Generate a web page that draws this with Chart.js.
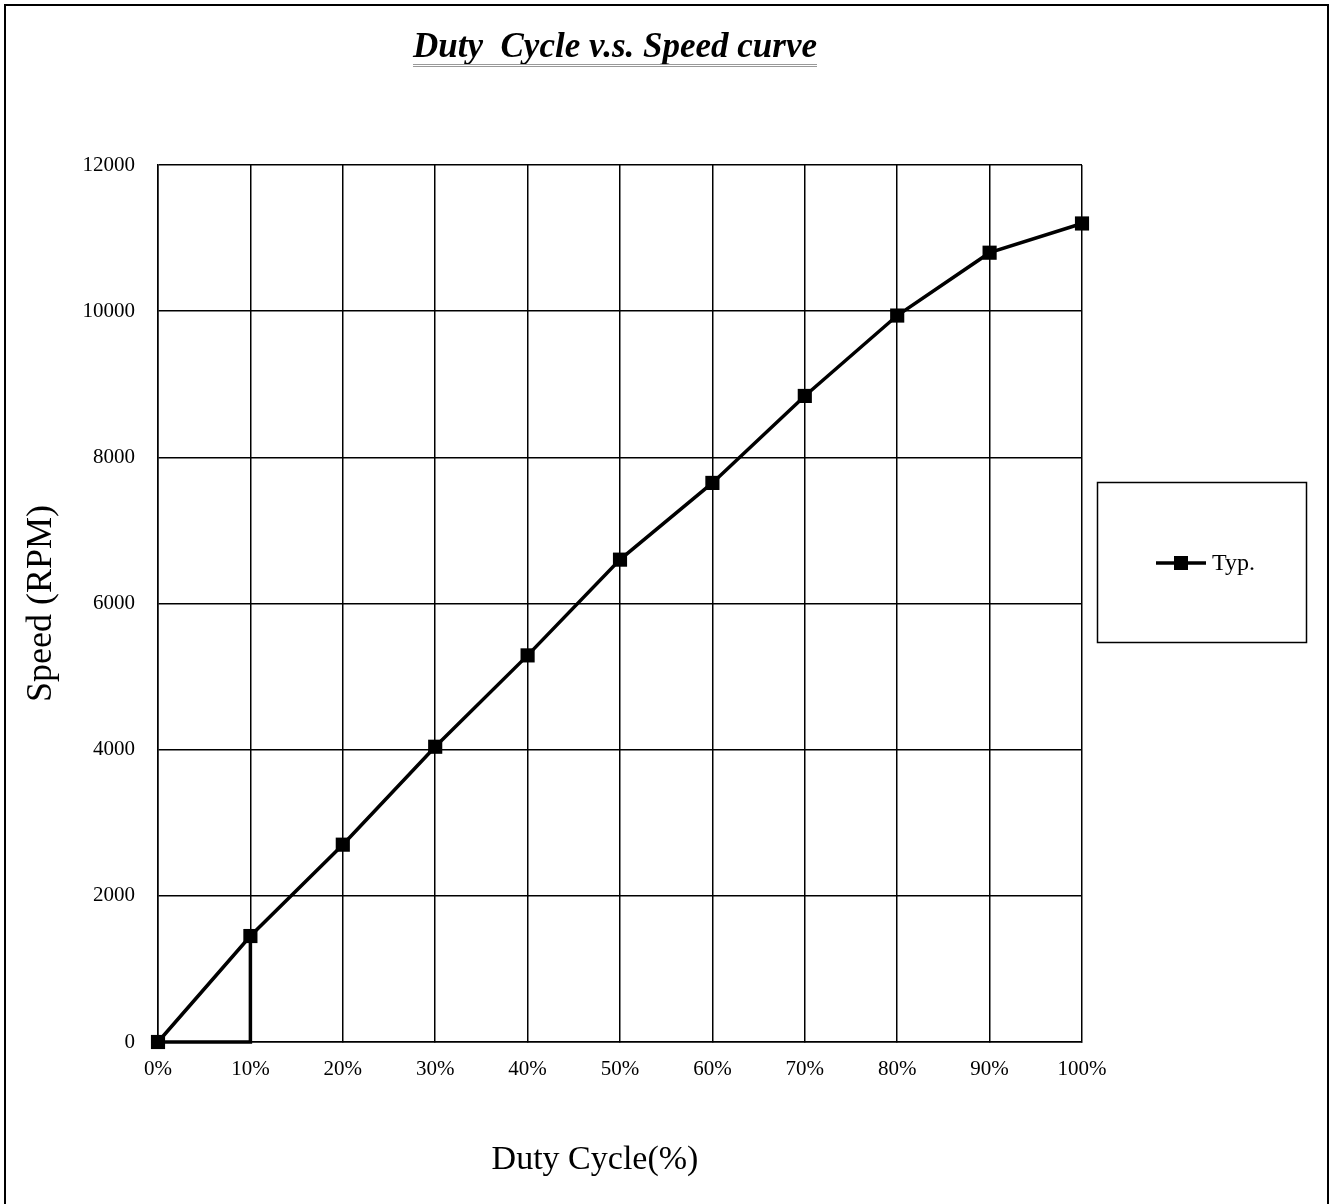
<!DOCTYPE html>
<html>
<head>
<meta charset="utf-8">
<script src="https://cdn.jsdelivr.net/npm/chart.js@4/dist/chart.umd.min.js"></script>
<style>
  html, body { margin: 0; padding: 0; background: #fff; }
  #wrap { width: 1335px; height: 1204px; }
</style>
</head>
<body>
<div id="wrap"><canvas id="Chart" width="1335" height="1204"></canvas></div>
<script>
// values
const dutyCycle = [0, 10, 20, 30, 40, 50, 60, 70, 80, 90, 100];
const speedTyp = [0, 1450, 2700, 4040, 5290, 6600, 7650, 8840, 9940, 10800, 11200];
// start-up step drawn under the curve (0% -> 10% at 0 rpm, then jump up)
const stepX = [0, 10, 10];
const stepY = [0, 0, 1450];
const yTicks = [0, 2000, 4000, 6000, 8000, 10000, 12000];

const titleText = "Duty  Cycle v.s. Speed curve";
const xTitle = "Duty Cycle(%)";
const yTitle = "Speed (RPM)";
const legendLabel = "Typ.";

const serif = "'Liberation Serif', 'Times New Roman', serif";

function toPoints(xs, ys) {
  const pts = [];
  for (var i = 0; i < xs.length; i++) pts.push({ x: xs[i], y: ys[i] });
  return pts;
}

// frame, title, x title and the boxed legend
const decorations = {
  id: "decorations",
  afterDraw(chart) {
    const ctx = chart.ctx;
    ctx.save();
    // outer frame (open at the bottom)
    ctx.strokeStyle = "#000";
    ctx.lineWidth = 2;
    ctx.beginPath();
    ctx.moveTo(5, 1210);
    ctx.lineTo(5, 5);
    ctx.lineTo(1328, 5);
    ctx.lineTo(1328, 1210);
    ctx.stroke();

    // title
    ctx.fillStyle = "#000";
    ctx.font = "italic bold 35px " + serif;
    ctx.textAlign = "center";
    ctx.textBaseline = "alphabetic";
    ctx.fillText(titleText, 615, 57);
    const tw = ctx.measureText(titleText).width;
    ctx.strokeStyle = "#999";
    ctx.lineWidth = 1;
    ctx.beginPath();
    ctx.moveTo(615 - tw / 2, 64.5);
    ctx.lineTo(615 + tw / 2, 64.5);
    ctx.moveTo(615 - tw / 2, 66.5);
    ctx.lineTo(615 + tw / 2, 66.5);
    ctx.stroke();

    // x axis title
    ctx.font = "34px " + serif;
    ctx.textBaseline = "middle";
    ctx.fillText(xTitle, 595, 1160);

    // legend box
    ctx.strokeStyle = "#000";
    ctx.lineWidth = 1.5;
    ctx.strokeRect(1097.5, 482.5, 209, 160);
    const ds = chart.data.datasets[0];
    ctx.strokeStyle = ds.borderColor;
    ctx.lineWidth = ds.borderWidth;
    ctx.beginPath();
    ctx.moveTo(1156, 563);
    ctx.lineTo(1206, 563);
    ctx.stroke();
    ctx.fillStyle = ds.pointBackgroundColor;
    ctx.fillRect(1174, 556, 14, 14);
    ctx.fillStyle = "#000";
    ctx.font = "24px " + serif;
    ctx.textAlign = "left";
    ctx.fillText(legendLabel, 1212, 564);
    ctx.restore();
  }
};

const ctx = document.getElementById("Chart").getContext("2d");
const myChart = new Chart(ctx, {
  type: "line",
  data: {
    datasets: [
      {
        label: legendLabel,
        data: toPoints(dutyCycle, speedTyp),
        borderColor: "#000",
        backgroundColor: "#000",
        borderWidth: 3.5,
        pointStyle: "rect",
        pointRadius: 10,
        pointBackgroundColor: "#000",
        pointBorderWidth: 0,
        tension: 0,
        clip: false,
      },
      {
        label: "step",
        data: toPoints(stepX, stepY),
        borderColor: "#000",
        borderWidth: 3.5,
        pointRadius: 0,
        tension: 0,
        clip: false,
      },
    ],
  },
  options: {
    responsive: false,
    animation: false,
    layout: { padding: { top: 165, right: 253, left: 0, bottom: 0 } },
    plugins: {
      legend: { display: false },
      title: { display: false },
      tooltip: { enabled: false },
    },
    scales: {
      x: {
        type: "linear",
        min: 0,
        max: 100,
        afterFit: (scale) => { scale.height = 162; },
        ticks: {
          stepSize: 10,
          padding: 15,
          color: "#000",
          font: { family: serif, size: 21 },
          callback: (v) => v + "%",
        },
        grid: { color: "#000", lineWidth: 1.5, tickLength: 0 },
        border: { color: "#000", width: 1.5 },
      },
      y: {
        min: 0,
        max: 12000,
        afterFit: (scale) => { scale.width = 158; },
        afterBuildTicks: (scale) => {
          scale.ticks = yTicks.map((v) => ({ value: v }));
        },
        ticks: {
          padding: 23,
          color: "#000",
          font: { family: serif, size: 21 },
          callback: (v) => String(v),
        },
        grid: { color: "#000", lineWidth: 1.5, tickLength: 0 },
        border: { color: "#000", width: 1.5 },
        title: {
          display: true,
          text: yTitle,
          color: "#000",
          font: { family: serif, size: 36 },
          padding: { top: 20 },
        },
      },
    },
  },
  plugins: [decorations],
});
</script>
</body>
</html>
